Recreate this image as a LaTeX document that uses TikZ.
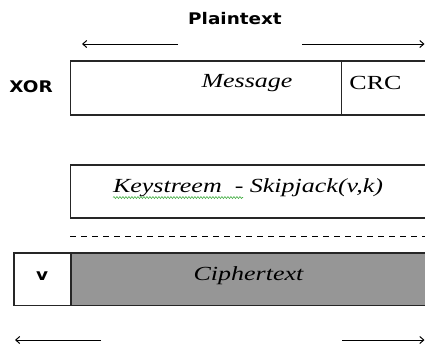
\documentclass[tikz,border=0pt]{standalone}
\usepackage{fontspec}
\newfontfamily\labelfont[FakeStretch=1.15]{DejaVu Sans}
\newfontfamily\fieldfont[FakeStretch=1.3]{Liberation Serif}
\usetikzlibrary{arrows.meta,positioning,decorations.pathmorphing}
\definecolor{cipherfill}{RGB}{150,150,150}
\definecolor{spellgreen}{RGB}{70,175,70}

\begin{document}
\begin{tikzpicture}[x=1pt,y=-1pt,
  field/.style={draw=black!85,line width=1.3pt},
  lbl/.style={font=\labelfont\bfseries\fontsize{16}{18}\selectfont,anchor=base,inner sep=0pt},
  txt/.style={font=\fieldfont\itshape\fontsize{20}{24}\selectfont,anchor=base,inner sep=0pt},
  span/.style={-{Straight Barb[length=4pt,width=7pt]},line width=1pt}]
\useasboundingbox (0,0) rectangle (425,349);
\draw[field] (70.5,61) rectangle (430,115);
\draw[field] (341.5,61) -- (341.5,115);
\draw[field] (70.5,165) rectangle (430,218);
\draw[field,fill=cipherfill] (71,253) rectangle (430,305.5);
\draw[field,fill=white] (14,253) rectangle (71,305.5);
\draw[line width=1pt,dash pattern=on 6pt off 5pt] (70,236.5) -- (425,236.5);
\node[lbl] (plain) at (235,24) {Plaintext};
\node[lbl] (xor) at (31,92) {XOR};
\node[lbl] (v) at (42,280) {v};
\node[txt] (msg) at (247,87) {Message};
\node[txt,font=\fieldfont\fontsize{20}{24}\selectfont] (crc) at (375.5,89) {CRC};
\node[txt] (key) at (248,192) {Keystreem\ \ - Skipjack(v,k)};
\node[txt] (cipher) at (248.5,280) {Ciphertext};
\coordinate (ptl) at (178,44);
\coordinate (ptlend) at (82,44);
\coordinate (ptr) at (302,44);
\coordinate (ptrend) at (424.5,44);
\coordinate (ctl) at (101,340);
\coordinate (ctlend) at (15,340);
\coordinate (ctr) at (342,340);
\coordinate (ctrend) at (424.5,340);
\coordinate (wavy) at (113,197.5);
\coordinate (wavyend) at (243,197.5);
\draw[span] (ptl) -- (ptlend);
\draw[span] (ptr) -- (ptrend);
\draw[span] (ctl) -- (ctlend);
\draw[span] (ctr) -- (ctrend);
\draw[spellgreen,line width=0.6pt,decorate,
  decoration={snake,segment length=3pt,amplitude=1pt}] (wavy) -- (wavyend);
\end{tikzpicture}
\end{document}
